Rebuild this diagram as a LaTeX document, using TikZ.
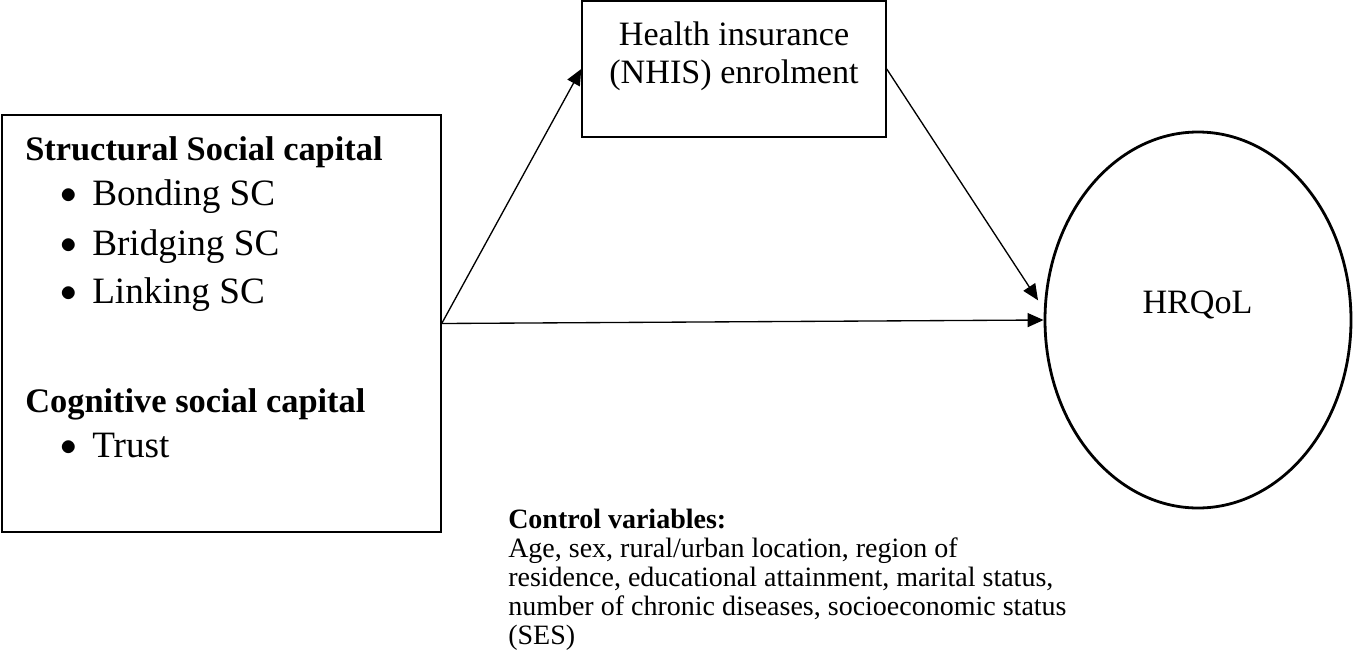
\documentclass[tikz,border=0pt]{standalone}
\usepackage{fontspec}
\setmainfont{Liberation Serif}
\usepackage{tikz}
\usetikzlibrary{arrows.meta,positioning,shapes.geometric}
\tikzset{
  box/.style={draw, line width=1.1pt, inner sep=0pt},
  oval/.style={draw, ellipse, line width=2.1pt, inner sep=0pt},
  head/.style={anchor=base west, inner sep=0pt, font=\fontsize{25.8}{30}\selectfont\bfseries},
  item/.style={anchor=base west, inner sep=0pt, font=\fontsize{27.9}{33}\selectfont},
  txt/.style={inner sep=0pt, font=\fontsize{25.6}{28.5}\selectfont},
  ctrl/.style={anchor=north west, inner sep=0pt, align=left, font=\fontsize{21}{21.75}\selectfont},
  flow/.style={-{Triangle[length=12pt,width=10.5pt]}, line width=1pt},
}
\newcommand{\scitem}[1]{\makebox[24pt][l]{\raisebox{1.4pt}{\fontsize{25}{25}\selectfont$\bullet$}}#1}

\begin{document}
\begin{tikzpicture}[x=0.75pt,y=-0.75pt]
\useasboundingbox (0,0) rectangle (1353,664);
% boxes
\node[box, minimum width=329.25pt, minimum height=312.75pt] (sc) at (221.5,323.5) {};
\node[box, minimum width=228pt, minimum height=102pt] (nhis) at (734,69) {};
\node[oval, minimum width=229.5pt, minimum height=282pt] (hrqol) at (1198,320) {};
% texts
\node[head] (sshead) at (25,160) {Structural Social capital};
\node[item] (bonding) at (60,205) {\scitem{Bonding SC}};
\node[item] (bridging) at (60,255) {\scitem{Bridging SC}};
\node[item] (linking) at (60,303) {\scitem{Linking SC}};
\node[head] (cshead) at (25,412) {Cognitive social capital};
\node[item] (trust) at (60,457) {\scitem{Trust}};
\node[txt, anchor=north, align=center] (nhistext) at (734,21.6) {Health insurance\\(NHIS) enrolment};
\node[txt, anchor=base] (hrqoltext) at (1197.5,313) {HRQoL};
\node[ctrl] (controls) at (508,509) {\textbf{Control variables:}\\Age, sex, rural/urban location, region of\\residence, educational attainment, marital status,\\number of chronic diseases, socioeconomic status\\(SES)};
% paths
\draw[flow] (sc.east) -- (nhis.west);
\draw[flow, shorten >=8pt] (nhis.east) -- (hrqol.176);
\draw[flow] (sc.east) -- (hrqol.west);
\end{tikzpicture}
\end{document}
